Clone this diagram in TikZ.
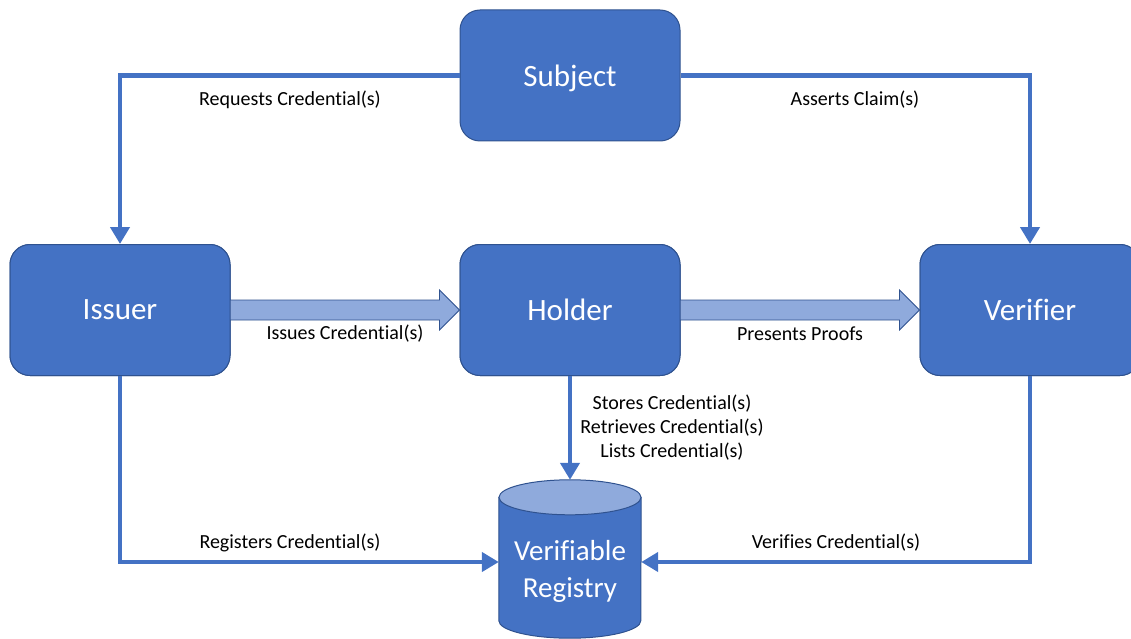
\documentclass[tikz,border=0pt]{standalone}
\usepackage{fontspec}
\setmainfont[Ligatures=NoCommon]{Carlito}
\usetikzlibrary{arrows.meta,calc}
\definecolor{boxblue}{HTML}{4472C4}
\definecolor{boxborder}{HTML}{2F528F}
\definecolor{lightblue}{HTML}{8FAADC}
\tikzset{
  actor/.style={draw=boxborder, line width=1pt, fill=boxblue, rounded corners=20pt,
    minimum width=220pt, minimum height=131pt, text=white, font=\fontsize{31}{36}\selectfont, inner sep=0pt},
  actortext/.style={text=white, font=\fontsize{31}{36}\selectfont, inner sep=0pt},
  conn/.style={draw=boxblue, line width=4.5pt, -{Triangle[length=17pt,width=19pt]}},
  blockarrow/.style={draw=boxborder, line width=0.8pt, fill=lightblue, line join=miter},
  lbl/.style={font=\fontsize{20}{24}\selectfont, text=black, inner sep=0pt, align=center}
}
\begin{document}
\begin{tikzpicture}[x=1pt,y=-1pt]
\useasboundingbox (0,0) rectangle (1131,639);
\clip (0,0) rectangle (1131,639);
% nodes
\node[actor] (subject) at (570,75.5) {};
\node[actortext] (subjecttext) at ($(subject.center)+(0,3)$) {Subject};
\node[actor] (issuer) at (120,310) {Issuer};
\node[actor] (holder) at (570,310) {Holder};
\node[actor] (verifier) at (1030,310) {Verifier};
\node[minimum width=142pt, minimum height=158pt, inner sep=0pt] (reg) at (570,559) {};
% block arrows
\path[blockarrow] ($(issuer.east)+(-2,-10)$) -- ($(holder.west)+(-20,-10)$) -- ($(holder.west)+(-20,-20)$)
  -- (holder.west) -- ($(holder.west)+(-20,20)$) -- ($(holder.west)+(-20,10)$) -- ($(issuer.east)+(-2,10)$) -- cycle;
\path[blockarrow] ($(holder.east)+(-2,-10)$) -- ($(verifier.west)+(-20,-10)$) -- ($(verifier.west)+(-20,-20)$)
  -- (verifier.west) -- ($(verifier.west)+(-20,20)$) -- ($(verifier.west)+(-20,10)$) -- ($(holder.east)+(-2,10)$) -- cycle;
% redraw boxes over the block arrow ends
\node[actor] at (issuer) {Issuer};
\node[actor] at (holder) {Holder};
\node[actor] at (verifier) {Verifier};
% connectors
\draw[conn] (subject.west) -| (issuer.north);
\draw[conn] (subject.east) -| (verifier.north);
\draw[conn] (holder.south) -- (reg.north);
\draw[conn] (issuer.south) |- ([yshift=-3pt]reg.west);
\draw[conn] (verifier.south) |- ([yshift=-3pt]reg.east);
% cylinder
\path[draw=boxborder, line width=1pt, fill=boxblue]
  ($(reg.north west)+(0,17.5)$) -- ($(reg.south west)+(0,-17.5)$)
  arc[start angle=180, end angle=360, x radius=71pt, y radius=17.5pt]
  -- ($(reg.north east)+(0,17.5)$) -- cycle;
\path[draw=boxborder, line width=1pt, fill=lightblue]
  ($(reg.north)+(0,17.5)$) ellipse[x radius=71pt, y radius=17.5pt];
\node[text=white, font=\fontsize{29}{37}\selectfont, align=center, inner sep=0pt] (regtext) at ($(reg.center)+(0,12)$) {Verifiable\\Registry};
% labels
\node[lbl] (l1) at (290,100) {Requests Credential(s)};
\node[lbl] (l2) at (855,100) {Asserts Claim(s)};
\node[lbl] (l3) at (345,334) {Issues Credential(s)};
\node[lbl] (l4) at (800,334) {Presents Proofs};
\node[lbl] (l5) at (672,428) {Stores Credential(s)\\Retrieves Credential(s)\\Lists Credential(s)};
\node[lbl] (l6) at (290,543) {Registers Credential(s)};
\node[lbl] (l7) at (836,543) {Verifies Credential(s)};
\end{tikzpicture}
\end{document}
